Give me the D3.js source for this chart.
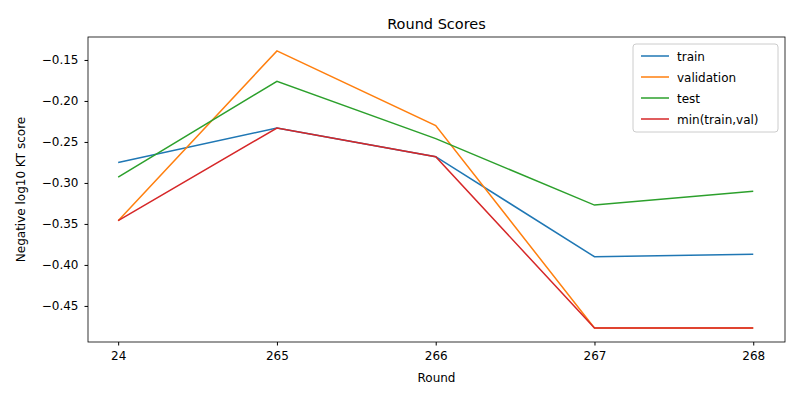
<!DOCTYPE html>
<html>
<head>
<meta charset="utf-8">
<script src="https://cdn.jsdelivr.net/npm/d3@7"></script>
<style>
  body { margin: 0; background: #fff; }
  text { font-family: "DejaVu Sans", sans-serif; }
</style>
</head>
<body>
<svg id="chart" width="800" height="400"></svg>
<script>
var rounds = ['24', '265', '266', '267', '268'];
var train = [-0.275, -0.233, -0.268, -0.390, -0.387];
var validation = [-0.346, -0.139, -0.230, -0.477, -0.477];
var test = [-0.293, -0.176, -0.246, -0.327, -0.310];
var minTrainVal = [-0.346, -0.233, -0.268, -0.477, -0.477];
var yTicks = [-0.15, -0.20, -0.25, -0.30, -0.35, -0.40, -0.45];

var series = [
  { name: 'train', values: train, color: '#1f77b4' },
  { name: 'validation', values: validation, color: '#ff7f0e' },
  { name: 'test', values: test, color: '#2ca02c' },
  { name: 'min(train,val)', values: minTrainVal, color: '#d62728' }
];

var plotLeft = 88, plotRight = 785, plotTop = 37, plotBottom = 342;
var svg = d3.select('#chart');

var x = d3.scaleLinear().domain([-0.19, 4.2]).range([plotLeft, plotRight]);
var y = d3.scaleLinear().domain([-0.494, -0.122]).range([plotBottom, plotTop]);

svg.append('g')
  .attr('transform', 'translate(0,' + plotBottom + ')')
  .call(d3.axisBottom(x).tickValues(d3.range(rounds.length))
    .tickFormat(function (i) { return rounds[i]; }).tickSizeOuter(0).tickSize(3.5).tickPadding(6))
  .call(function (g) { g.select('.domain').remove(); })
  .selectAll('text').attr('font-size', 12).attr('fill', '#000');

svg.append('g')
  .attr('transform', 'translate(' + plotLeft + ',0)')
  .call(d3.axisLeft(y).tickValues(yTicks).tickFormat(function (d) {
    return d3.format('.2f')(d).replace('-', '\u2212');
  }).tickSize(3.5).tickPadding(6))
  .call(function (g) { g.select('.domain').remove(); })
  .selectAll('text').attr('font-size', 12).attr('fill', '#000');

svg.append('rect')
  .attr('x', plotLeft).attr('y', plotTop)
  .attr('width', plotRight - plotLeft).attr('height', plotBottom - plotTop)
  .attr('fill', 'none').attr('stroke', '#000').attr('stroke-width', 0.8);

var line = d3.line()
  .x(function (d, i) { return x(i); })
  .y(function (d) { return y(d); });

svg.selectAll('path.series')
  .data(series)
  .enter()
  .append('path')
  .attr('class', 'series')
  .attr('d', function (d) { return line(d.values); })
  .attr('fill', 'none')
  .attr('stroke', function (d) { return d.color; })
  .attr('stroke-width', 1.5);

svg.append('text')
  .attr('x', (plotLeft + plotRight) / 2).attr('y', 29)
  .attr('text-anchor', 'middle').attr('font-size', 14.5)
  .text('Round Scores');

svg.append('text')
  .attr('x', (plotLeft + plotRight) / 2).attr('y', 382)
  .attr('text-anchor', 'middle').attr('font-size', 12)
  .text('Round');

svg.append('text')
  .attr('transform', 'translate(25,' + ((plotTop + plotBottom) / 2) + ') rotate(-90)')
  .attr('text-anchor', 'middle').attr('font-size', 12)
  .text('Negative log10 KT score');

var legend = svg.append('g').attr('transform', 'translate(633,44)');
legend.append('rect')
  .attr('width', 145).attr('height', 88).attr('rx', 3)
  .attr('fill', '#fff').attr('stroke', '#ccc');

var item = legend.selectAll('g.item')
  .data(series)
  .enter()
  .append('g')
  .attr('class', 'item')
  .attr('transform', function (d, i) { return 'translate(8,' + (12 + i * 21) + ')'; });

item.append('line')
  .attr('x1', 0).attr('x2', 28)
  .attr('stroke', function (d) { return d.color; })
  .attr('stroke-width', 1.5);

item.append('text')
  .attr('x', 36).attr('y', 4.5).attr('font-size', 12)
  .text(function (d) { return d.name; });
</script>
</body>
</html>
